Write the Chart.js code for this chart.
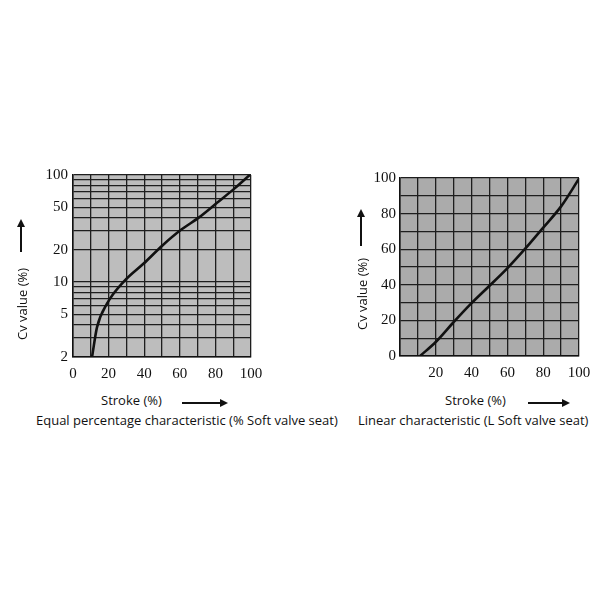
<!DOCTYPE html>
<html>
<head>
<meta charset="utf-8">
<script src="https://cdn.jsdelivr.net/npm/chart.js@4/dist/chart.umd.min.js"></script>
<style>
  body { margin: 0; background: #fff; width: 600px; height: 600px; position: relative; overflow: hidden; font-family: "Open Sans", sans-serif; color: #111; }
  .box { position: absolute; }
  .txt { position: absolute; font-size: 13px; white-space: nowrap; }
  .vt { position: absolute; font-size: 13px; white-space: nowrap; transform: rotate(-90deg); transform-origin: left top; }
  .hline { position: absolute; height: 2px; background: #111; }
  .hline:after { content: ""; position: absolute; right: -6px; top: -3px; border-left: 8px solid #111; border-top: 4px solid transparent; border-bottom: 4px solid transparent; }
  .vline { position: absolute; width: 2px; background: #111; }
  .vline:after { content: ""; position: absolute; top: -7px; left: -3px; border-bottom: 8px solid #111; border-left: 4px solid transparent; border-right: 4px solid transparent; }
</style>
</head>
<body>
<div class="box" style="left:0;top:160px;width:300px;height:220px"><canvas id="eq"></canvas></div>
<div class="box" style="left:300px;top:160px;width:300px;height:220px"><canvas id="lin"></canvas></div>

<div class="vt" style="left:13px;top:340px">Cv value (%)</div>
<div class="vline" style="left:20px;top:226px;height:26px"></div>
<div class="txt" style="left:101px;top:391px">Stroke (%)</div>
<div class="hline" style="left:182px;top:402px;width:40px"></div>
<div class="txt" style="left:36px;top:411px">Equal percentage characteristic (% Soft valve seat)</div>

<div class="vt" style="left:353px;top:330px">Cv value (%)</div>
<div class="vline" style="left:360px;top:216px;height:30px"></div>
<div class="txt" style="left:445px;top:391px">Stroke (%)</div>
<div class="hline" style="left:528px;top:402px;width:36px"></div>
<div class="txt" style="left:358px;top:411px">Linear characteristic (L Soft valve seat)</div>

<script>
// 等百分比特性曲线（对数坐标）
const eqStroke = [10.7, 13.5, 19.1, 28.5, 39.7, 50.4, 60.5, 70.8, 80.9, 90.8, 99.3];
const eqCv = [2, 3.8, 6.3, 10.1, 14.9, 22.1, 30.6, 40.2, 55, 75, 100];
const eqGrid = [2, 3, 4, 5, 6, 7, 8, 9, 10, 20, 30, 40, 50, 60, 70, 80, 90, 100];
const eqLabels = [2, 5, 10, 20, 50, 100];

// 线性特性曲线
const linStroke = [11.2, 20.1, 29.4, 39, 49, 59.5, 69.7, 79.9, 90.1, 100];
const linCv = [0, 8, 18.4, 28.7, 38.5, 48.8, 60, 72, 84.2, 99.6];
const linXLabels = [20, 40, 60, 80, 100];

const tickFont = { family: '"Liberation Serif", "DejaVu Serif", serif', size: 15 };
const gridStyle = { color: '#1e1e1e', lineWidth: 1.3, drawTicks: false };

// 绘图区背景
const bgPlugin = {
  id: 'plotBg',
  beforeDraw(chart, args, opts) {
    const a = chart.chartArea, c = chart.ctx;
    c.save();
    c.fillStyle = opts.color;
    c.fillRect(a.left, a.top, a.right - a.left, a.bottom - a.top);
    c.restore();
  }
};

function makeChart(id, xs, ys, cfg) {
  return new Chart(document.getElementById(id), {
    type: 'line',
    data: {
      datasets: [{
        data: xs.map((x, i) => ({ x, y: ys[i] })),
        borderColor: '#111',
        borderWidth: 2.6,
        pointRadius: 0,
        cubicInterpolationMode: 'monotone',
        fill: false
      }]
    },
    options: {
      responsive: true,
      maintainAspectRatio: false,
      animation: false,
      layout: { padding: cfg.padding },
      plugins: { legend: { display: false }, tooltip: { enabled: false }, plotBg: { color: cfg.bg } },
      scales: {
        x: {
          type: 'linear', min: 0, max: 100,
          grid: gridStyle,
          border: { color: '#111', width: 1.5 },
          afterBuildTicks: s => { s.ticks = [0,10,20,30,40,50,60,70,80,90,100].map(v => ({ value: v })); },
          ticks: {
            font: tickFont, color: '#111', padding: 8, autoSkip: false, maxRotation: 0,
            callback: v => cfg.xLabels.includes(v) ? String(v) : ''
          },
          afterFit: s => { s.height = cfg.xH; }
        },
        y: cfg.y
      }
    },
    plugins: [bgPlugin]
  });
}

makeChart('eq', eqStroke, eqCv, {
  padding: { top: 15, right: 49, left: 0, bottom: 0 },
  bg: '#bdbdbd', xH: 23,
  xLabels: [0, 20, 40, 60, 80, 100],
  y: {
    type: 'logarithmic', min: 2, max: 100,
    grid: gridStyle,
    border: { color: '#111', width: 1.5 },
    afterBuildTicks: s => { s.ticks = eqGrid.map(v => ({ value: v })); },
    ticks: {
      font: tickFont, color: '#111', padding: 5, autoSkip: false,
      callback: v => eqLabels.includes(v) ? String(v) : ''
    },
    afterFit: s => { s.width = 73; }
  }
});

makeChart('lin', linStroke, linCv, {
  padding: { top: 18, right: 21, left: 0, bottom: 0 },
  bg: '#ababab', xH: 24,
  xLabels: linXLabels,
  y: {
    type: 'linear', min: 0, max: 100,
    grid: gridStyle,
    border: { color: '#111', width: 1.5 },
    afterBuildTicks: s => { s.ticks = [0,10,20,30,40,50,60,70,80,90,100].map(v => ({ value: v })); },
    ticks: {
      font: tickFont, color: '#111', padding: 4, autoSkip: false,
      callback: v => v % 20 === 0 ? String(v) : ''
    },
    afterFit: s => { s.width = 100; }
  }
});
</script>
</body>
</html>
